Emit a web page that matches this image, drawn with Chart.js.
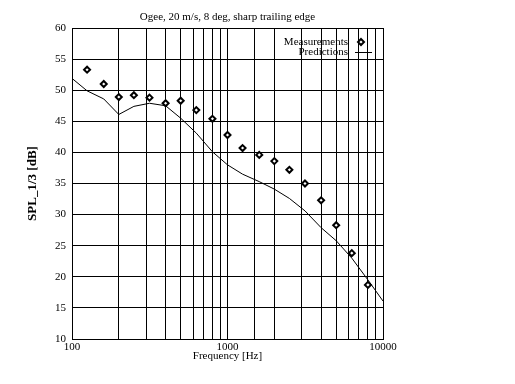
<!DOCTYPE html>
<html>
<head>
<meta charset="utf-8">
<script src="https://cdn.jsdelivr.net/npm/chart.js@4"></script>
<style>
html,body{margin:0;padding:0;background:#fff;}
#c{display:block;}
</style>
</head>
<body>
<canvas id="c" width="515" height="384"></canvas>
<script>
const measFreq = [125,160,200,250,315,400,500,630,800,1000,1250,1600,2000,2500,3150,4000,5000,6300,8000];
const measSPL  = [53.3,51.0,48.9,49.2,48.8,47.9,48.3,46.8,45.4,42.8,40.7,39.6,38.6,37.2,35.0,32.3,28.3,23.8,18.7];
const predFreq = [100,125,160,200,250,315,400,500,630,800,1000,1250,1600,2000,2500,3150,4000,5000,6300,8000,10000];
const predSPL  = [51.9,49.9,48.6,46.1,47.4,47.9,47.5,45.5,43.1,40.1,38.0,36.5,35.3,34.1,32.6,30.6,27.9,25.8,23.0,19.5,16.1];
const xTickLabels = [100,1000,10000];
const titleText = 'Ogee, 20 m/s, 8 deg, sharp trailing edge';
const xTitle = 'Frequency [Hz]';
const yTitle = 'SPL_1/3 [dB]';
const legendLabels = ['Measurements','Predictions'];

const FONT = "'Liberation Serif', 'DejaVu Serif', serif";

const overlayPlugin = {
  id: 'overlay',
  afterDatasetsDraw(chart) {
    const ctx = chart.ctx;
    const a = chart.chartArea;
    ctx.save();
    ctx.fillStyle = '#000';
    ctx.font = '11px ' + FONT;
    ctx.textAlign = 'center';
    ctx.textBaseline = 'middle';
    ctx.fillText(titleText, (a.left + a.right) / 2, 17);
    ctx.textAlign = 'right';
    ctx.fillText(legendLabels[0], 348, 42);
    ctx.fillText(legendLabels[1], 348, 52);
    ctx.strokeStyle = '#000';
    ctx.lineWidth = 2;
    ctx.fillStyle = '#fff';
    ctx.beginPath();
    ctx.moveTo(361, 39); ctx.lineTo(364, 42); ctx.lineTo(361, 45); ctx.lineTo(358, 42); ctx.closePath();
    ctx.fill(); ctx.stroke();
    ctx.lineWidth = 1;
    ctx.beginPath();
    ctx.moveTo(355, 52.5); ctx.lineTo(372, 52.5);
    ctx.stroke();
    ctx.restore();
  }
};

new Chart(document.getElementById('c'), {
  type: 'line',
  data: {
    datasets: [
      {
        label: legendLabels[0],
        data: measFreq.map((f,i)=>({x:f,y:measSPL[i]})),
        showLine: false,
        pointStyle: 'rectRot',
        pointRadius: 3,
        pointBorderWidth: 2,
        pointBackgroundColor: '#fff',
        pointBorderColor: '#000',
        order: 0
      },
      {
        label: legendLabels[1],
        data: predFreq.map((f,i)=>({x:f,y:predSPL[i]})),
        borderColor: '#000',
        borderWidth: 1,
        pointRadius: 0,
        tension: 0,
        fill: false,
        order: 1
      }
    ]
  },
  options: {
    responsive: false,
    animation: false,
    devicePixelRatio: 1,
    layout: { padding: { left: 0, right: 132, top: 28, bottom: 0 } },
    plugins: {
      legend: { display: false },
      tooltip: { enabled: false },
      title: { display: false }
    },
    scales: {
      x: {
        type: 'logarithmic',
        min: 100,
        max: 10000,
        afterFit(s) { s.height = 45; },
        grid: { color: '#000', lineWidth: 1, drawTicks: false },
        border: { color: '#000', width: 1 },
        ticks: {
          color: '#000',
          font: { family: FONT, size: 11 },
          padding: 2,
          autoSkip: false,
          maxRotation: 0,
          callback(v) { return xTickLabels.includes(v) ? String(v) : ''; }
        },
        title: {
          display: true,
          text: xTitle,
          color: '#000',
          font: { family: FONT, size: 11, lineHeight: 1.2 },
          padding: { top: 0, bottom: 21 }
        }
      },
      y: {
        min: 10,
        max: 60,
        afterFit(s) { s.width = 72; },
        grid: { color: '#000', lineWidth: 1, drawTicks: false },
        border: { color: '#000', width: 1 },
        ticks: {
          stepSize: 5,
          color: '#000',
          font: { family: FONT, size: 11 },
          padding: 6
        },
        title: {
          display: true,
          text: yTitle,
          color: '#000',
          font: { family: FONT, size: 13, weight: 'bold', lineHeight: 1.2 },
          padding: { top: 25, bottom: 0 }
        }
      }
    }
  },
  plugins: [overlayPlugin]
});
</script>
</body>
</html>
